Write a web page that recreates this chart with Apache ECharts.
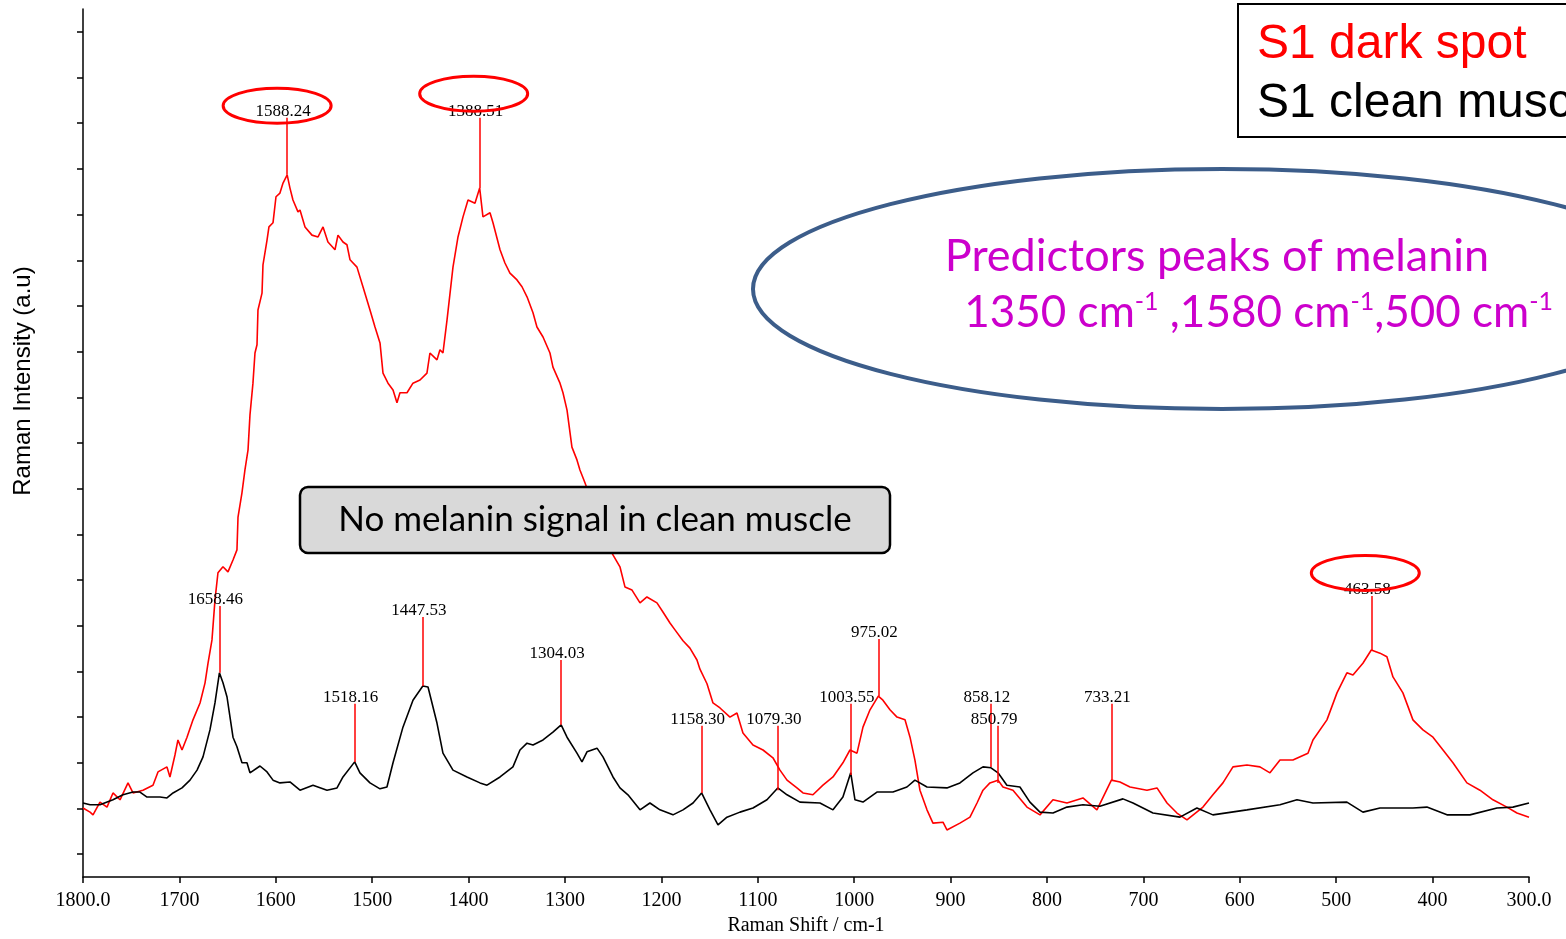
<!DOCTYPE html>
<html>
<head>
<meta charset="utf-8">
<title>Raman spectra</title>
<style>
 html, body { margin: 0; padding: 0; background: #fff; }
 #raman-chart { width: 1566px; height: 939px; }
</style>
<script src="https://cdn.jsdelivr.net/npm/echarts@6/dist/echarts.min.js"></script>
</head>
<body>
<div id="raman-chart"></div>
<script>
// [Raman shift (cm-1), intensity (a.u.)]
const darkSpot = [
 [1800.0, 1.51], [1792.7, 1.42], [1789.6, 1.36], [1782.4, 1.64], [1775.1, 1.53], [1768.9, 1.84], [1761.6, 1.69],
 [1753.3, 2.06], [1748.1, 1.84], [1737.8, 1.90], [1727.4, 2.01], [1722.2, 2.30], [1712.9, 2.41], [1709.8, 2.19],
 [1704.6, 2.67], [1701.5, 3.00], [1697.3, 2.78], [1692.1, 3.06], [1685.9, 3.44], [1678.6, 3.81], [1673.4, 4.25],
 [1670.3, 4.68], [1666.2, 5.19], [1663.1, 6.06], [1660.0, 6.66], [1654.8, 6.79], [1649.6, 6.68], [1644.4, 6.94],
 [1640.3, 7.16], [1639.2, 7.88], [1635.1, 8.41], [1632.0, 8.91], [1628.8, 9.35], [1626.8, 10.11], [1623.7, 10.81],
 [1621.6, 11.47], [1619.5, 11.65], [1618.5, 12.41], [1614.3, 12.78], [1613.3, 13.40], [1609.1, 13.94], [1607.1, 14.23],
 [1602.9, 14.32], [1599.8, 14.89], [1595.7, 14.97], [1592.5, 15.19], [1588.2, 15.37], [1585.3, 15.08], [1582.2, 14.82],
 [1577.0, 14.56], [1574.9, 14.60], [1569.7, 14.23], [1562.5, 14.05], [1556.2, 14.01], [1551.0, 14.23], [1545.9, 13.90],
 [1538.6, 13.73], [1535.5, 14.05], [1530.3, 13.90], [1526.2, 13.84], [1523.0, 13.51], [1515.8, 13.35], [1509.6, 12.92],
 [1502.3, 12.41], [1497.1, 12.04], [1491.9, 11.69], [1488.8, 11.03], [1483.6, 10.81], [1478.4, 10.66], [1474.3, 10.38],
 [1471.2, 10.60], [1463.9, 10.60], [1457.7, 10.81], [1450.4, 10.88], [1443.2, 11.03], [1440.1, 11.47], [1432.8, 11.32],
 [1429.7, 11.54], [1426.6, 11.47], [1422.4, 12.19], [1416.2, 13.35], [1411.0, 14.01], [1405.8, 14.45], [1400.6, 14.82],
 [1393.4, 14.75], [1388.5, 15.08], [1385.1, 14.45], [1377.8, 14.54], [1374.7, 14.32], [1367.4, 13.73], [1362.3, 13.44],
 [1357.1, 13.22], [1349.8, 13.07], [1344.6, 12.92], [1339.4, 12.70], [1333.2, 12.35], [1329.1, 12.04], [1322.8, 11.82],
 [1315.6, 11.47], [1312.5, 11.16], [1305.2, 10.81], [1302.1, 10.60], [1297.9, 10.22], [1292.8, 9.41], [1287.6, 9.13],
 [1284.5, 8.91], [1279.3, 8.63], [1268.9, 8.03], [1258.5, 7.49], [1251.3, 7.09], [1243.0, 6.79], [1237.8, 6.35],
 [1230.5, 6.28], [1222.2, 6.00], [1215.0, 6.13], [1204.6, 6.00], [1198.4, 5.80], [1191.1, 5.56], [1185.9, 5.41],
 [1177.6, 5.17], [1170.4, 5.01], [1163.1, 4.75], [1160.0, 4.55], [1152.7, 4.23], [1146.5, 3.81], [1139.2, 3.70],
 [1128.9, 3.50], [1121.6, 3.59], [1115.4, 3.15], [1105.0, 2.89], [1094.6, 2.78], [1084.3, 2.61], [1077.0, 2.34],
 [1069.7, 2.12], [1059.4, 1.95], [1053.1, 1.84], [1042.8, 1.80], [1032.4, 2.01], [1022.0, 2.19], [1011.7, 2.50],
 [1004.4, 2.78], [997.1, 2.71], [990.9, 3.28], [983.6, 3.66], [975.0, 3.96], [970.2, 3.87], [962.9, 3.66],
 [955.6, 3.50], [947.3, 3.44], [942.1, 3.06], [937.0, 2.56], [931.8, 1.90], [924.5, 1.47], [918.3, 1.18],
 [907.9, 1.20], [903.8, 1.03], [890.3, 1.18], [879.9, 1.31], [872.6, 1.62], [866.4, 1.90], [859.2, 2.06],
 [850.8, 2.12], [845.7, 1.97], [835.3, 1.90], [820.8, 1.53], [807.3, 1.36], [793.8, 1.69], [779.3, 1.62],
 [762.7, 1.73], [748.2, 1.47], [733.2, 2.12], [724.3, 2.08], [713.9, 1.97], [696.3, 1.90], [685.9, 1.95],
 [675.5, 1.62], [665.2, 1.40], [654.8, 1.25], [638.2, 1.53], [627.9, 1.80], [617.5, 2.06], [607.1, 2.41],
 [592.6, 2.45], [579.1, 2.41], [568.7, 2.28], [558.3, 2.56], [544.9, 2.56], [529.3, 2.71], [524.1, 3.00],
 [509.6, 3.44], [499.2, 4.03], [488.9, 4.47], [482.6, 4.42], [472.3, 4.68], [463.6, 4.97], [454.6, 4.90],
 [447.4, 4.82], [441.1, 4.38], [430.8, 4.03], [420.4, 3.44], [410.0, 3.22], [399.6, 3.06], [389.2, 2.78],
 [378.9, 2.50], [364.4, 2.06], [350.9, 1.90], [337.4, 1.69], [322.9, 1.53], [312.5, 1.40], [300.0, 1.31]
]

const cleanMuscle = [
 [1800.0, 1.62], [1792.7, 1.58], [1782.4, 1.58], [1768.9, 1.69], [1758.5, 1.80], [1748.1, 1.86], [1740.9, 1.86],
 [1733.6, 1.75], [1720.1, 1.75], [1712.9, 1.73], [1706.6, 1.84], [1697.3, 1.95], [1689.0, 2.12], [1681.7, 2.34],
 [1675.5, 2.63], [1668.3, 3.22], [1663.1, 3.81], [1658.5, 4.47], [1654.8, 4.25], [1650.6, 3.94], [1647.5, 3.50],
 [1644.4, 3.06], [1640.3, 2.85], [1635.1, 2.50], [1629.9, 2.50], [1626.8, 2.28], [1616.4, 2.43], [1609.1, 2.30],
 [1602.9, 2.12], [1595.7, 2.06], [1585.3, 2.08], [1574.9, 1.90], [1561.4, 2.01], [1546.9, 1.90], [1536.5, 1.95],
 [1530.3, 2.19], [1518.2, 2.52], [1512.7, 2.28], [1502.3, 2.06], [1491.9, 1.93], [1484.7, 1.97], [1478.4, 2.50],
 [1468.1, 3.28], [1457.7, 3.87], [1447.5, 4.18], [1442.1, 4.16], [1432.8, 3.37], [1426.6, 2.71], [1416.2, 2.34],
 [1401.7, 2.19], [1388.2, 2.06], [1380.9, 2.01], [1367.4, 2.19], [1354.0, 2.41], [1346.7, 2.78], [1339.4, 2.93],
 [1333.2, 2.89], [1322.8, 3.00], [1312.5, 3.17], [1304.0, 3.33], [1297.9, 3.06], [1287.6, 2.71], [1282.4, 2.52],
 [1277.2, 2.74], [1266.8, 2.82], [1260.6, 2.63], [1250.2, 2.19], [1243.0, 1.95], [1234.7, 1.80], [1222.2, 1.47],
 [1211.9, 1.62], [1201.5, 1.47], [1188.0, 1.36], [1177.6, 1.47], [1167.2, 1.62], [1158.3, 1.84], [1149.6, 1.47],
 [1141.3, 1.14], [1132.0, 1.31], [1118.5, 1.42], [1105.0, 1.51], [1090.5, 1.69], [1079.3, 1.95], [1069.7, 1.80],
 [1056.3, 1.64], [1035.5, 1.62], [1022.0, 1.47], [1011.7, 1.75], [1003.6, 2.28], [999.2, 1.69], [990.9, 1.64],
 [976.4, 1.86], [959.8, 1.86], [945.3, 1.97], [937.0, 2.12], [924.5, 1.97], [903.8, 1.95], [890.3, 2.06],
 [876.8, 2.28], [866.4, 2.41], [858.1, 2.39], [850.8, 2.28], [841.6, 2.01], [828.1, 1.97], [817.7, 1.64],
 [807.3, 1.42], [793.8, 1.40], [779.3, 1.53], [762.7, 1.58], [745.1, 1.55], [721.2, 1.71], [710.8, 1.62],
 [690.1, 1.40], [662.1, 1.31], [644.5, 1.51], [627.9, 1.36], [592.6, 1.47], [558.3, 1.58], [540.7, 1.69],
 [524.1, 1.62], [488.9, 1.64], [472.3, 1.42], [454.6, 1.51], [420.4, 1.51], [405.9, 1.53], [385.1, 1.36],
 [361.3, 1.36], [333.2, 1.51], [316.7, 1.53], [300.0, 1.62]
]

// labelled peaks: position, intensity where the leader starts, intensity where it ends (under the label)
const peakLabels = ['1658.46', '1588.24', '1518.16', '1447.53', '1388.51', '1304.03', '1158.30', '1079.30', '1003.55', '975.02', '858.12', '850.79', '733.21', '463.58']
const peakFrom = [4.47, 15.37, 2.52, 4.18, 15.08, 3.33, 1.84, 1.90, 2.23, 3.96, 2.41, 2.06, 2.12, 4.97]
const peakTo = [5.93, 16.62, 3.79, 5.69, 16.62, 4.75, 3.31, 3.31, 3.79, 5.21, 3.79, 3.31, 3.79, 6.15]
const circledPeaks = ['1588.24', '1388.51', '463.58']
const circleShift = [[-10, -12], [-6, -24], [-6, -23]]

const seriesNames = ['S1 dark spot', 'S1 clean muscle']
const seriesColors = ['#ff0000', '#000000']
const yTicks = [0.5, 1.5, 2.5, 3.5, 4.5, 5.5, 6.5, 7.5, 8.5, 9.5, 10.5, 11.5, 12.5, 13.5, 14.5, 15.5, 16.5, 17.5, 18.5]

const chartDom = document.getElementById('raman-chart')
const myChart = echarts.init(chartDom)

const peakLines = peakLabels.map((p, i) => [
 { name: p, coord: [Number(p), peakFrom[i]] },
 { coord: [Number(p), peakTo[i]] }
])

const option = {
 animation: false,
 backgroundColor: '#fff',
 grid: { left: 83, right: 37, top: 9, bottom: 62, outerBoundsMode: 'none' },
 legend: {
  orient: 'vertical',
  left: 1238,
  top: 4,
  icon: 'none',
  itemWidth: 0,
  itemHeight: 20,
  itemGap: 11,
  padding: [17, 14, 9, 14],
  borderColor: '#000',
  borderWidth: 2,
  selectedMode: false,
  textStyle: { fontSize: 48, fontFamily: 'Liberation Sans' },
  data: [
   { name: seriesNames[0], textStyle: { color: seriesColors[0] } },
   { name: seriesNames[1], textStyle: { color: seriesColors[1] } }
  ]
 },
 xAxis: {
  type: 'value',
  inverse: true,
  min: 300,
  max: 1800,
  interval: 100,
  name: 'Raman Shift / cm-1',
  nameLocation: 'middle',
  nameGap: 38,
  nameTextStyle: { fontFamily: 'Liberation Serif', fontSize: 20, color: '#000' },
  axisLine: { lineStyle: { color: '#000', width: 1.5 } },
  axisTick: { length: 6, lineStyle: { color: '#000', width: 1.5 } },
  axisLabel: {
   margin: 14,
   color: '#000',
   fontFamily: 'Liberation Serif',
   fontSize: 20,
   showMinLabel: true,
   showMaxLabel: true,
   formatter: v => (v === 1800 || v === 300) ? v.toFixed(1) : String(v)
  },
  splitLine: { show: false }
 },
 yAxis: {
  type: 'value',
  min: 0,
  max: 19,
  name: 'Raman Intensity (a.u)',
  nameLocation: 'middle',
  nameGap: 48,
  nameTextStyle: { fontFamily: 'Liberation Sans', fontSize: 24, color: '#000', padding: [0, 0, 0, 124] },
  axisLine: { show: true, lineStyle: { color: '#000', width: 1.5 } },
  axisTick: { show: true, length: 6, customValues: yTicks, lineStyle: { color: '#000', width: 1.5 } },
  axisLabel: { show: false },
  splitLine: { show: false }
 },
 series: [
  {
   name: seriesNames[0],
   type: 'line',
   data: darkSpot,
   showSymbol: false,
   symbol: 'none',
   lineStyle: { color: seriesColors[0], width: 1.6 },
   itemStyle: { color: seriesColors[0] }
  },
  {
   name: seriesNames[1],
   type: 'line',
   data: cleanMuscle,
   showSymbol: false,
   symbol: 'none',
   lineStyle: { color: seriesColors[1], width: 1.6 },
   itemStyle: { color: seriesColors[1] },
   markLine: {
    silent: true,
    symbol: ['none', 'none'],
    lineStyle: { color: '#ff0000', width: 1.5, type: 'solid' },
    label: {
     show: true,
     position: 'end',
     distance: 0,
     offset: [-4, 2],
     formatter: '{b}',
     color: '#000',
     fontFamily: 'Liberation Serif',
     fontSize: 17
    },
    data: peakLines
   }
  }
 ]
}

myChart.setOption(option, true)

// red ellipses round the melanin peak labels, placed from the data coordinates
const labelRings = circledPeaks.map((p, i) => {
 const k = peakLabels.indexOf(p)
 const pt = myChart.convertToPixel({ gridIndex: 0 }, [Number(p), peakTo[k]])
 return {
  type: 'ellipse',
  z: 100,
  shape: { cx: pt[0] + circleShift[i][0], cy: pt[1] + circleShift[i][1], rx: 54, ry: 17.5 },
  style: { fill: 'none', stroke: '#ff0000', lineWidth: 3 }
 }
})

myChart.setOption({
 graphic: [
  {
   type: 'ellipse',
   z: 100,
   shape: { cx: 1222, cy: 289, rx: 469, ry: 120 },
   style: { fill: 'none', stroke: '#3c5d8a', lineWidth: 4 }
  },
  {
   type: 'text',
   z: 101,
   x: 1217,
   y: 256,
   style: {
    text: 'Predictors peaks of melanin',
    align: 'center',
    verticalAlign: 'middle',
    fill: '#cc00cc',
    font: '45px Lato'
   }
  },
  {
   type: 'text',
   z: 101,
   x: 1253,
   y: 313,
   style: {
    text: '{n| 1350 cm}{s|-1}{n| ,1580 cm}{s|-1}{n|,500 cm}{s|-1}',
    align: 'center',
    verticalAlign: 'middle',
    rich: {
     n: { fill: '#cc00cc', fontFamily: 'Lato', fontSize: 44, lineHeight: 48 },
     s: { fill: '#cc00cc', fontFamily: 'Lato', fontSize: 25, lineHeight: 48, verticalAlign: 'top' }
    }
   }
  },
  {
   type: 'group',
   z: 100,
   children: [
    {
     type: 'rect',
     z: 100,
     shape: { x: 300, y: 487, width: 590, height: 66, r: 8 },
     style: { fill: '#d9d9d9', stroke: '#000', lineWidth: 2.5 }
    },
    {
     type: 'text',
     z: 101,
     x: 595,
     y: 520,
     style: {
      text: 'No melanin signal in clean muscle',
      align: 'center',
      verticalAlign: 'middle',
      fill: '#000',
      font: '35px Lato'
     }
    }
   ]
  }
 ].concat(labelRings)
})

window.addEventListener('resize', () => myChart.resize())
</script>
</body>
</html>
